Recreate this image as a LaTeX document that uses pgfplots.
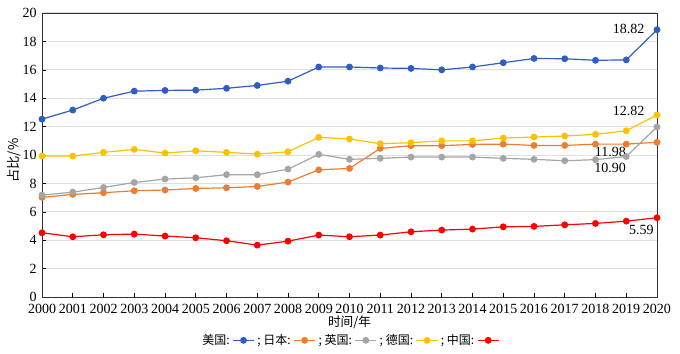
\documentclass[border=0pt]{standalone}
\usepackage{pgfplots}
\pgfplotsset{compat=1.18}
\usepackage{fontspec}
\setmainfont{Liberation Serif}
\newfontfamily\cjk{Noto Sans CJK SC}
\definecolor{cUS}{HTML}{2F5EC0}
\definecolor{cJP}{HTML}{ED7D31}
\definecolor{cUK}{HTML}{A5A5A5}
\definecolor{cDE}{HTML}{FFC000}
\definecolor{cCN}{HTML}{FF0000}
\begin{document}
\begin{tikzpicture}
\begin{axis}[
  scale only axis,
  width=461pt, height=213pt,
  xmin=2000, xmax=2020, ymin=0, ymax=20,
  xtick={2000,2001,...,2020},
  ytick={0,2,...,20},
  tick pos=left,
  major tick length=3pt,
  tick style={black, line width=0.5pt},
  axis line style={black!80, line width=0.6pt},
  ymajorgrids, grid style={gray!25, line width=0.8pt},
  /pgf/number format/assume math mode=true,
  /pgf/number format/set thousands separator={},
  ticklabel style={font=\fontsize{10.5}{12}\selectfont},
  xticklabel style={yshift=-2pt},
  yticklabel style={xshift=-0.5pt},
  xlabel={\cjk 时间/年},
  xlabel style={font=\fontsize{9.5}{11}\selectfont, at={(axis description cs:0.5,-0.09)}, anchor=center},
  ylabel={\cjk 占比/\%},
  ylabel style={font=\fontsize{10}{12}\selectfont, at={(axis description cs:-0.046,0.48)}, anchor=center},
  clip=false,
  every axis plot/.append style={line width=0.9pt, mark=*, mark size=2.1pt, mark options={solid}},
  legend plot pos=right,
  legend columns=5,
  legend style={draw=none, fill=none, at={(0.5,-0.152)}, anchor=center,
    font=\fontsize{9}{11}\selectfont\cjk, inner sep=0pt,
    /tikz/every even column/.append style={column sep=0pt}},
  legend image code/.code={\draw[mark repeat=2,mark phase=2] plot coordinates {(0cm,0cm)(0.28cm,0cm)(0.56cm,0cm)};},
]
\addplot[color=cUS] coordinates {
(2000,12.53)(2001,13.17)(2002,14.0)(2003,14.5)(2004,14.55)(2005,14.57)(2006,14.7)(2007,14.9)(2008,15.2)(2009,16.2)(2010,16.2)(2011,16.13)(2012,16.1)(2013,16.0)(2014,16.2)(2015,16.5)(2016,16.8)(2017,16.78)(2018,16.67)(2019,16.7)(2020,18.82)};
\addlegendentry{美国:}
\addplot[color=cJP] coordinates {
(2000,7.02)(2001,7.23)(2002,7.35)(2003,7.49)(2004,7.54)(2005,7.65)(2006,7.7)(2007,7.79)(2008,8.1)(2009,8.96)(2010,9.06)(2011,10.47)(2012,10.66)(2013,10.66)(2014,10.75)(2015,10.77)(2016,10.68)(2017,10.68)(2018,10.77)(2019,10.77)(2020,10.90)};
\addlegendentry{; 日本:}
\addplot[color=cUK] coordinates {
(2000,7.18)(2001,7.39)(2002,7.72)(2003,8.07)(2004,8.31)(2005,8.4)(2006,8.62)(2007,8.62)(2008,9.01)(2009,10.05)(2010,9.7)(2011,9.77)(2012,9.86)(2013,9.86)(2014,9.86)(2015,9.77)(2016,9.7)(2017,9.6)(2018,9.68)(2019,9.9)(2020,11.98)};
\addlegendentry{; 英国:}
\addplot[color=cDE] coordinates {
(2000,9.93)(2001,9.93)(2002,10.19)(2003,10.4)(2004,10.14)(2005,10.3)(2006,10.19)(2007,10.07)(2008,10.23)(2009,11.25)(2010,11.13)(2011,10.8)(2012,10.87)(2013,11.0)(2014,11.0)(2015,11.2)(2016,11.27)(2017,11.34)(2018,11.46)(2019,11.71)(2020,12.82)};
\addlegendentry{; 德国:}
\addplot[color=cCN] coordinates {
(2000,4.53)(2001,4.25)(2002,4.39)(2003,4.44)(2004,4.3)(2005,4.18)(2006,3.97)(2007,3.66)(2008,3.94)(2009,4.37)(2010,4.25)(2011,4.37)(2012,4.6)(2013,4.72)(2014,4.79)(2015,4.95)(2016,4.98)(2017,5.09)(2018,5.19)(2019,5.35)(2020,5.59)};
\addlegendentry{; 中国:}
\node[anchor=east, font=\fontsize{10.5}{12}\selectfont, inner sep=0pt] at (axis cs:2019.6,18.9) {18.82};
\node[anchor=east, font=\fontsize{10.5}{12}\selectfont, inner sep=0pt] at (axis cs:2019.6,13.1) {12.82};
\node[anchor=east, font=\fontsize{10.5}{12}\selectfont, inner sep=0pt] at (axis cs:2019.0,10.2) {11.98};
\node[anchor=east, font=\fontsize{10.5}{12}\selectfont, inner sep=0pt] at (axis cs:2019.0,9.08) {10.90};
\node[anchor=east, font=\fontsize{10.5}{12}\selectfont, inner sep=0pt] at (axis cs:2019.9,4.75) {5.59};
\coordinate (sw) at (rel axis cs:0,0);
\coordinate (ne) at (rel axis cs:1,1);
\end{axis}
\pgfresetboundingbox
\path ([shift={(-31.5pt,-42pt)}]sw) rectangle ([shift={(17.25pt,9.75pt)}]ne);
\end{tikzpicture}
\end{document}
